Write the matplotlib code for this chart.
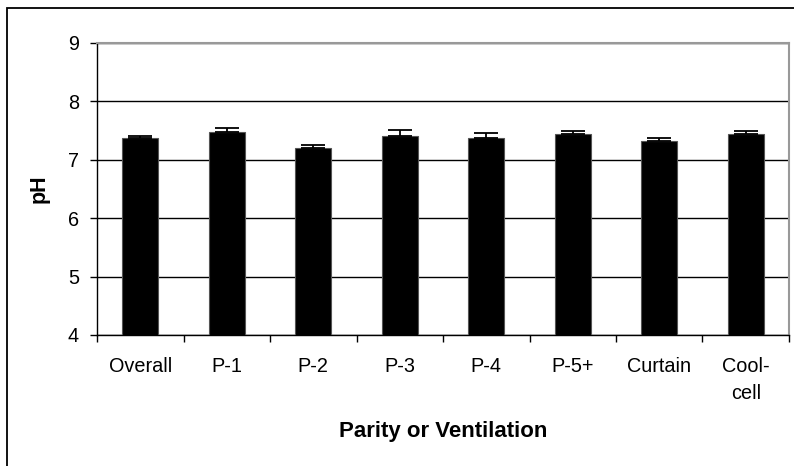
import numpy as np
import matplotlib.pyplot as plt
from matplotlib.patches import Rectangle

plt.rcParams['font.family'] = ['Liberation Sans', 'DejaVu Sans']

# pH by parity group / ventilation type
groups = ["Overall", "P-1", "P-2", "P-3", "P-4", "P-5+", "Curtain", "Cool-\ncell"]
ph_mean = [7.38, 7.47, 7.21, 7.41, 7.38, 7.44, 7.33, 7.44]
ph_se = [0.03, 0.08, 0.05, 0.10, 0.08, 0.05, 0.05, 0.05]

fig = plt.figure(figsize=(7.94, 4.66), dpi=100)
ax = fig.add_axes([97 / 794, 131 / 466, 692 / 794, 292 / 466])

# outer chart border (left and top edges visible)
fig.patches.append(Rectangle((7 / 794, -0.1), 1.2, (458 / 466) + 0.1,
                             transform=fig.transFigure, fill=False,
                             edgecolor="black", linewidth=1.3))

x = np.arange(len(groups))
ax.bar(x, ph_mean, width=0.42, bottom=0, color="black",
       edgecolor="#555555", linewidth=0.8, zorder=3)
ax.errorbar(x, ph_mean, yerr=[np.zeros(len(ph_se)), ph_se], fmt="none",
            ecolor="black", elinewidth=1.3, capsize=8.6, capthick=1.3, zorder=4)

ax.set_ylim(4, 9)
ax.set_xlim(-0.5, len(groups) - 0.5)
ax.set_yticks([4, 5, 6, 7, 8, 9])
ax.yaxis.grid(True, color="black", linewidth=1.0, zorder=0)
ax.set_axisbelow(True)

# category labels between boundary ticks
ax.set_xticks(np.arange(-0.5, len(groups), 1.0))
ax.set_xticklabels([])
ax.set_xticks(x, minor=True)
ax.set_xticklabels(groups, minor=True, fontsize=14.3, linespacing=1.5)
ax.tick_params(axis="x", which="minor", length=0, pad=16)
ax.tick_params(axis="x", which="major", direction="out", length=5, width=1)
ax.tick_params(axis="y", direction="out", length=5, width=1, labelsize=14.3, pad=8)

for side in ["top", "right"]:
    ax.spines[side].set_color("#999999")
    ax.spines[side].set_linewidth(1.5)
for side in ["left", "bottom"]:
    ax.spines[side].set_color("black")
    ax.spines[side].set_linewidth(1.0)

ax.set_ylabel("pH", fontsize=15.5, fontweight="bold", labelpad=13)
ax.set_xlabel("Parity or Ventilation", fontsize=16, fontweight="bold", labelpad=13)

fig.savefig("out.png", dpi=100)
